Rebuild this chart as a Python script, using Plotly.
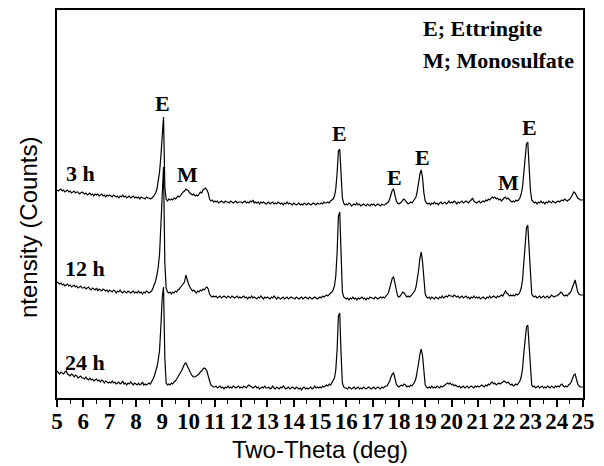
import numpy as np
import plotly.graph_objects as go

# Powder XRD scans, 5-25 deg two-theta, 0.05 deg step.
# Each row holds one degree (x.00 ... x.95); the final value is 25.00.
STEP = 0.05
TWO_THETA_START = 5.0

scan_3h = [
    [28, 27, 28, 29, 27, 28, 26, 27, 28, 26, 27, 25, 26, 27, 25, 26, 26, 24, 25, 26],
    [25, 24, 25, 23, 24, 25, 23, 24, 22, 24, 23, 24, 22, 23, 24, 22, 23, 21, 23, 22],
    [23, 22, 21, 23, 22, 21, 22, 20, 22, 21, 23, 21, 22, 20, 21, 22, 20, 21, 22, 20],
    [21, 20, 21, 19, 21, 20, 20, 19, 21, 20, 20, 19, 20, 21, 23, 25, 29, 36, 46, 62],
    [88, 101, 31, 19, 17, 19, 18, 19, 18, 20, 19, 21, 22, 21, 23, 24, 26, 27, 29, 28],
    [27, 25, 24, 23, 24, 22, 23, 22, 24, 26, 25, 28, 29, 30, 28, 25, 19, 17, 18, 16],
    [17, 16, 17, 15, 16, 17, 16, 15, 17, 16, 16, 15, 17, 16, 15, 16, 17, 15, 16, 16],
    [16, 15, 16, 17, 15, 16, 15, 17, 16, 18, 15, 16, 15, 16, 14, 16, 15, 16, 15, 14],
    [15, 16, 14, 15, 16, 14, 15, 14, 16, 15, 14, 15, 13, 15, 14, 16, 14, 15, 14, 13],
    [15, 14, 13, 14, 15, 13, 14, 13, 15, 14, 13, 15, 14, 13, 14, 15, 14, 13, 15, 14],
    [14, 15, 14, 16, 15, 15, 16, 15, 17, 18, 19, 22, 29, 45, 67, 69, 40, 20, 15, 13],
    [14, 13, 15, 14, 12, 13, 14, 13, 15, 13, 14, 12, 13, 14, 13, 12, 14, 13, 12, 14],
    [13, 14, 12, 13, 14, 13, 12, 14, 13, 13, 14, 15, 16, 19, 24, 28, 29, 23, 17, 15],
    [14, 15, 16, 18, 19, 17, 15, 14, 15, 16, 15, 17, 18, 21, 27, 36, 44, 48, 40, 25],
    [17, 15, 14, 15, 13, 15, 14, 16, 14, 15, 13, 15, 16, 14, 15, 16, 14, 15, 17, 15],
    [16, 15, 17, 16, 14, 16, 15, 16, 17, 15, 16, 17, 16, 15, 17, 18, 20, 17, 16, 15],
    [16, 17, 15, 16, 17, 16, 18, 17, 19, 18, 20, 21, 20, 21, 19, 20, 18, 19, 17, 19],
    [20, 21, 19, 20, 18, 17, 16, 17, 16, 18, 17, 18, 20, 24, 31, 45, 62, 74, 76, 52],
    [28, 18, 16, 15, 16, 14, 16, 15, 17, 15, 16, 14, 16, 15, 17, 16, 15, 17, 16, 15],
    [16, 17, 16, 17, 18, 17, 19, 18, 17, 18, 19, 21, 24, 26, 25, 22, 20, 19, 18, 18],
    [18],
]

scan_12h = [
    [26, 25, 24, 25, 23, 24, 22, 23, 24, 22, 23, 21, 22, 23, 21, 22, 20, 21, 22, 20],
    [20, 21, 19, 20, 21, 19, 18, 20, 19, 18, 20, 17, 19, 18, 17, 19, 18, 17, 18, 16],
    [18, 17, 16, 18, 17, 15, 17, 16, 18, 16, 15, 17, 16, 15, 17, 16, 15, 16, 17, 15],
    [16, 15, 17, 15, 16, 14, 16, 15, 17, 16, 15, 16, 17, 20, 23, 27, 33, 41, 54, 80],
    [120, 141, 45, 20, 16, 15, 16, 14, 16, 15, 17, 16, 18, 19, 21, 23, 25, 26, 33, 27],
    [24, 21, 19, 17, 18, 16, 15, 17, 16, 18, 17, 19, 18, 20, 21, 19, 14, 12, 11, 12],
    [11, 12, 10, 11, 12, 10, 11, 12, 11, 10, 12, 11, 10, 12, 11, 10, 11, 12, 10, 11],
    [10, 11, 12, 10, 11, 9, 11, 10, 12, 10, 11, 10, 9, 11, 10, 12, 10, 9, 11, 10],
    [11, 10, 9, 11, 10, 12, 10, 9, 11, 10, 9, 10, 11, 9, 10, 11, 9, 10, 11, 10],
    [10, 9, 11, 10, 9, 10, 11, 9, 10, 11, 10, 9, 11, 10, 9, 10, 11, 10, 9, 10],
    [11, 10, 12, 11, 12, 13, 12, 14, 15, 16, 18, 22, 32, 55, 92, 96, 50, 16, 11, 10],
    [9, 10, 8, 10, 9, 11, 9, 10, 8, 10, 9, 10, 11, 9, 10, 8, 10, 9, 11, 10],
    [10, 9, 11, 10, 9, 10, 11, 10, 11, 10, 12, 13, 15, 20, 27, 30, 31, 24, 16, 12],
    [11, 12, 14, 16, 15, 13, 11, 12, 11, 12, 14, 15, 17, 21, 28, 38, 50, 56, 46, 24],
    [14, 11, 10, 11, 9, 11, 10, 9, 11, 10, 9, 11, 10, 12, 10, 11, 12, 11, 13, 12],
    [12, 11, 13, 12, 11, 12, 10, 11, 12, 10, 11, 12, 10, 11, 9, 11, 10, 12, 10, 11],
    [10, 11, 9, 10, 11, 10, 9, 11, 10, 12, 10, 11, 12, 11, 10, 12, 11, 12, 13, 12],
    [14, 17, 15, 14, 12, 13, 12, 13, 12, 14, 13, 14, 16, 20, 28, 45, 68, 80, 83, 58],
    [26, 14, 12, 11, 12, 10, 11, 12, 10, 11, 12, 10, 11, 12, 10, 11, 13, 12, 11, 12],
    [12, 13, 14, 16, 15, 13, 12, 13, 12, 14, 15, 17, 21, 26, 28, 22, 16, 14, 13, 13],
    [13],
]

scan_24h = [
    [27, 25, 24, 26, 25, 24, 26, 27, 24, 23, 22, 24, 23, 21, 23, 22, 20, 21, 22, 20],
    [20, 19, 21, 19, 18, 20, 18, 19, 17, 18, 19, 17, 18, 16, 18, 17, 15, 17, 16, 15],
    [16, 15, 17, 15, 16, 14, 15, 16, 14, 15, 17, 14, 15, 13, 15, 14, 16, 14, 13, 15],
    [14, 13, 15, 13, 14, 16, 13, 14, 13, 14, 15, 14, 16, 19, 22, 26, 31, 38, 48, 72],
    [100, 111, 40, 15, 13, 14, 13, 15, 14, 16, 17, 19, 21, 23, 25, 28, 31, 34, 35, 32],
    [29, 26, 24, 22, 21, 21, 22, 23, 24, 26, 27, 29, 30, 29, 27, 22, 16, 13, 12, 11],
    [11, 12, 10, 11, 12, 10, 11, 9, 11, 10, 12, 10, 11, 10, 12, 11, 10, 11, 12, 10],
    [11, 10, 12, 11, 10, 12, 13, 12, 11, 10, 11, 12, 10, 11, 9, 10, 11, 10, 12, 10],
    [10, 11, 9, 10, 12, 10, 9, 11, 10, 9, 11, 10, 12, 10, 9, 10, 11, 9, 10, 11],
    [10, 9, 11, 10, 9, 10, 8, 10, 11, 9, 10, 9, 10, 11, 9, 10, 12, 10, 11, 10],
    [11, 10, 12, 11, 12, 13, 12, 14, 13, 15, 17, 20, 28, 48, 82, 85, 45, 15, 11, 10],
    [10, 9, 11, 10, 9, 10, 11, 9, 10, 11, 9, 10, 9, 11, 10, 9, 10, 11, 10, 9],
    [10, 11, 9, 10, 11, 10, 9, 11, 10, 11, 12, 12, 14, 17, 21, 24, 25, 20, 14, 12],
    [11, 12, 13, 12, 14, 13, 11, 12, 11, 13, 12, 14, 16, 20, 26, 35, 44, 49, 42, 22],
    [13, 11, 10, 11, 10, 12, 10, 11, 10, 12, 11, 10, 12, 11, 12, 13, 14, 15, 14, 15],
    [13, 14, 12, 13, 12, 11, 12, 10, 11, 12, 10, 11, 12, 10, 11, 12, 11, 10, 12, 11],
    [12, 11, 12, 13, 12, 11, 13, 12, 14, 13, 15, 16, 14, 15, 13, 14, 15, 14, 15, 16],
    [17, 16, 15, 16, 14, 13, 14, 12, 13, 14, 13, 15, 17, 21, 29, 45, 62, 71, 73, 52],
    [24, 13, 11, 12, 10, 11, 12, 10, 11, 12, 10, 11, 10, 12, 11, 10, 12, 11, 10, 12],
    [11, 12, 11, 13, 14, 12, 11, 12, 11, 13, 14, 16, 19, 23, 24, 19, 14, 12, 11, 11],
    [11],
]

scans = {"3 h": scan_3h, "12 h": scan_12h, "24 h": scan_24h}
# vertical stacking of the patterns
stack_offset = {"3 h": 180, "12 h": 90, "24 h": 0}

# phase markers: (label, two-theta, height)
phase_marks = [
    ("E", 9.03, 295),
    ("M", 9.98, 224),
    ("E", 15.76, 265),
    ("E", 17.85, 221),
    ("E", 18.88, 241),
    ("M", 22.15, 216),
    ("E", 22.95, 271),
]
# sample labels: (text, two-theta, height)
sample_labels = [("3 h", 5.27, 225), ("12 h", 5.24, 130), ("24 h", 5.24, 36)]
key_lines = ["E; Ettringite", "M; Monosulfate"]

SERIF = "Liberation Serif"
SANS = "Liberation Sans"
label_font = dict(family=SERIF, size=22, color="black", weight="bold")
tick_font = dict(family=SERIF, size=23, color="black", weight="bold")

fig = go.Figure()
for name, rows in scans.items():
    counts = np.array([v for row in rows for v in row], dtype=float)
    two_theta = TWO_THETA_START + STEP * np.arange(len(counts))
    fig.add_trace(go.Scatter(
        x=two_theta, y=counts + stack_offset[name], mode="lines", name=name,
        line=dict(color="black", width=1.2), hoverinfo="skip",
    ))

annotations = []
for text, tx, ty in phase_marks:
    annotations.append(dict(
        x=tx, y=ty, xref="x", yref="y", text=text, showarrow=False,
        font=label_font, xanchor="center", yanchor="middle",
    ))
for text, tx, ty in sample_labels:
    annotations.append(dict(
        x=tx, y=ty, xref="x", yref="y", text=text, showarrow=False,
        font=label_font, xanchor="left", yanchor="middle",
    ))
for i, text in enumerate(key_lines):
    annotations.append(dict(
        x=18.85, y=370 - 32 * i, xref="x", yref="y", text=text, showarrow=False,
        font=label_font, xanchor="left", yanchor="middle",
    ))
# y-axis title, centred a little below the middle of the frame
annotations.append(dict(
    x=0, xref="paper", xshift=-29, y=170, yref="y",
    text="ntensity (Counts)", textangle=-90, showarrow=False,
    font=dict(family=SANS, size=24, color="black"),
    xanchor="center", yanchor="middle",
))

fig.update_layout(
    width=604, height=466,
    margin=dict(l=57, r=21, t=10, b=68),
    paper_bgcolor="white", plot_bgcolor="white",
    showlegend=False,
    annotations=annotations,
)
fig.update_xaxes(
    range=[5, 25], tick0=5, dtick=1,
    ticks="outside", ticklen=7, tickwidth=1.5, tickcolor="black",
    minor=dict(dtick=0.5, ticks="outside", ticklen=4, tickwidth=1.2,
               tickcolor="black", showgrid=False),
    showline=True, mirror=True, linecolor="black", linewidth=1.5,
    showgrid=False, zeroline=False,
    tickfont=tick_font,
    ticklabelstandoff=-5,
    title=dict(text="Two-Theta (deg)", font=dict(family=SANS, size=24, color="black"),
               standoff=8),
    automargin=False,
)
fig.update_yaxes(
    range=[0, 388], showticklabels=False, ticks="",
    showline=True, mirror=True, linecolor="black", linewidth=1.5,
    showgrid=False, zeroline=False,
    automargin=False,
)

fig.write_html("out.html")
